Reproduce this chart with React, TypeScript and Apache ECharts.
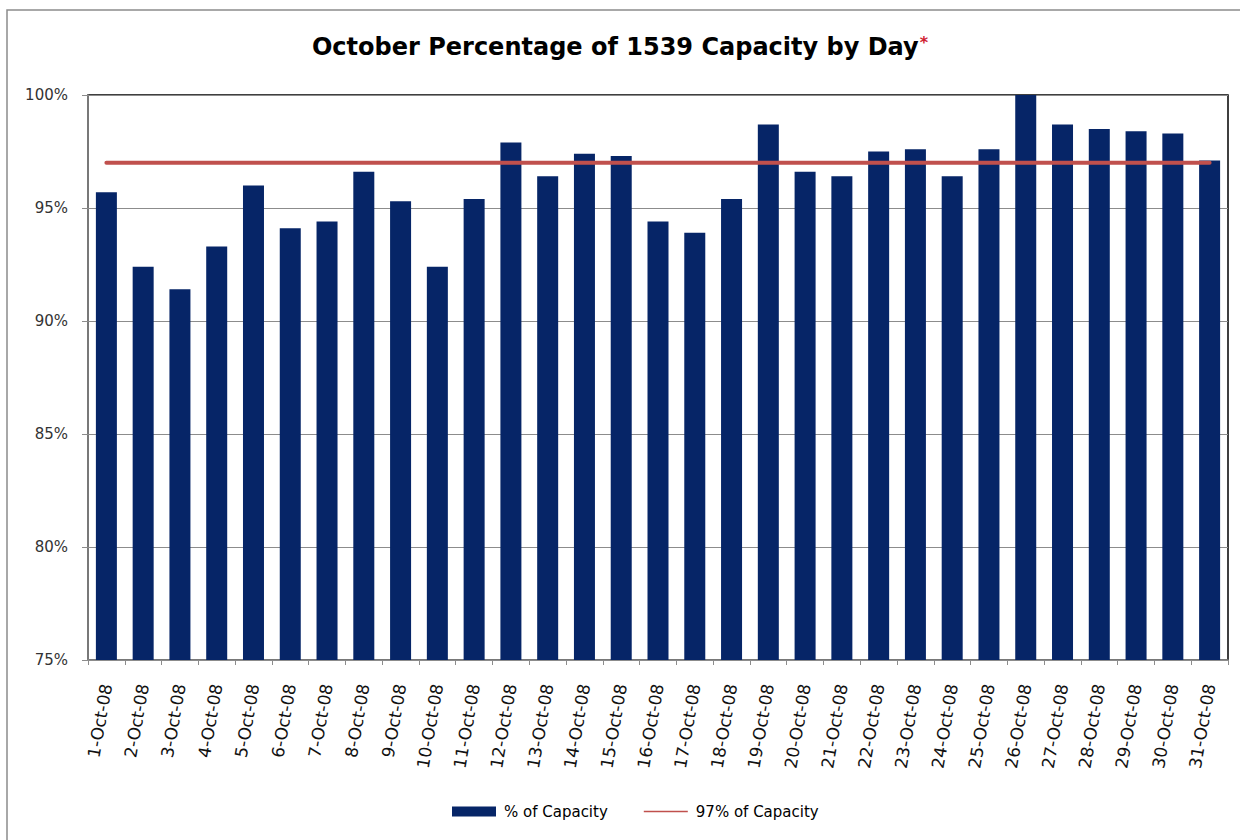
import React, { useEffect, useRef } from "react";
import * as echarts from "echarts";

const days: string[] = [
  "1-Oct-08", "2-Oct-08", "3-Oct-08", "4-Oct-08", "5-Oct-08", "6-Oct-08", "7-Oct-08", "8-Oct-08",
  "9-Oct-08", "10-Oct-08", "11-Oct-08", "12-Oct-08", "13-Oct-08", "14-Oct-08", "15-Oct-08", "16-Oct-08",
  "17-Oct-08", "18-Oct-08", "19-Oct-08", "20-Oct-08", "21-Oct-08", "22-Oct-08", "23-Oct-08", "24-Oct-08",
  "25-Oct-08", "26-Oct-08", "27-Oct-08", "28-Oct-08", "29-Oct-08", "30-Oct-08", "31-Oct-08",
];

const capacityPct: number[] = [
  95.7, 92.4, 91.4, 93.3, 96.0, 94.1, 94.4, 96.6, 95.3, 92.4, 95.4, 97.9, 96.4, 97.4, 97.3, 94.4,
  93.9, 95.4, 98.7, 96.6, 96.4, 97.5, 97.6, 96.4, 97.6, 100.0, 98.7, 98.5, 98.4, 98.3, 97.1,
];

const targetPct: number[] = days.map(() => 97);

const yMin = 75;
const yMax = 100;
const yStep = 5;

export default function App() {
  const ref = useRef<HTMLDivElement>(null);
  useEffect(() => {
    if (!ref.current) return;
    const chart = echarts.init(ref.current, null, { renderer: "svg" });
    const font = "'DejaVu Sans', Arial, sans-serif";
    chart.setOption({
      animation: false,
      backgroundColor: "#ffffff",
      title: {
        text: "{a|October Percentage of 1539 Capacity by Day}{b|*}",
        left: "center",
        top: 29,
        textStyle: {
          rich: {
            a: { fontFamily: font, fontSize: 24, fontWeight: "bold", color: "#000000" },
            b: { fontFamily: font, fontSize: 16, color: "#d02030", verticalAlign: "top", padding: [0, 0, 10, 1] },
          },
        },
      },
      graphic: [
        {
          type: "rect",
          shape: { x: 7, y: 10, width: 1260, height: 860 },
          style: { fill: "none", stroke: "#8c8c8c", lineWidth: 1.5 },
          silent: true,
        },
      ],
      legend: {
        bottom: 16,
        left: 447,
        itemGap: 36,
        itemWidth: 44,
        itemHeight: 10,
        textStyle: { fontFamily: font, fontSize: 15, color: "#000000", padding: [0, 0, 0, 3] },
        data: [
          { name: "% of Capacity", icon: "rect" },
          { name: "97% of Capacity", icon: "path://M0,0H60V2H0Z" },
        ],
      },
      grid: {
        left: 88,
        right: 12,
        top: 95,
        bottom: 180,
        show: true,
        borderColor: "#000000",
        borderWidth: 1.5,
        backgroundColor: "#ffffff",
      },
      xAxis: {
        type: "category",
        data: days,
        boundaryGap: true,
        axisLine: { lineStyle: { color: "#8c8c8c", width: 1.5 } },
        axisTick: { show: true, alignWithLabel: false, length: 5, lineStyle: { color: "#8c8c8c" } },
        axisLabel: {
          interval: 0,
          rotate: 80,
          margin: 24,
          fontFamily: font,
          fontSize: 17,
          color: "#111111",
        },
      },
      yAxis: {
        type: "value",
        min: yMin,
        max: yMax,
        interval: yStep,
        axisLine: { show: true, lineStyle: { color: "#8c8c8c", width: 1.5 } },
        axisTick: { show: true, length: 6, lineStyle: { color: "#8c8c8c" } },
        axisLabel: {
          formatter: "{value}%",
          margin: 20,
          fontFamily: font,
          fontSize: 15,
          color: "#333333",
        },
        splitLine: { show: true, lineStyle: { color: "#8c8c8c", width: 1 } },
      },
      series: [
        {
          name: "% of Capacity",
          type: "bar",
          data: capacityPct,
          barWidth: 21,
          itemStyle: { color: "#062567" },
        },
        {
          name: "97% of Capacity",
          type: "line",
          data: targetPct,
          symbol: "none",
          lineStyle: { color: "#c0504d", width: 4, cap: "round" },
          itemStyle: { color: "#c0504d" },
          z: 3,
        },
      ],
    });
    return () => chart.dispose();
  }, []);
  return (
    <div
      ref={ref}
      style={{ position: "fixed", left: 0, top: 0, width: 1240, height: 840 }}
    />
  );
}
